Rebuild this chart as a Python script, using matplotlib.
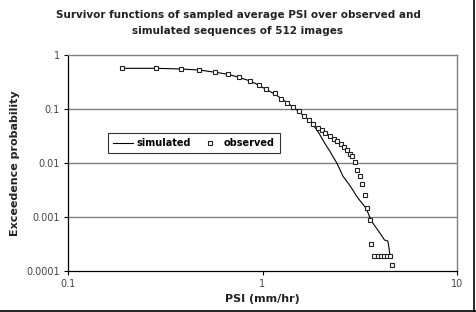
import matplotlib
matplotlib.use("Agg")
import matplotlib.pyplot as plt
from matplotlib.lines import Line2D

# Observed survivor function (PSI mm/hr, exceedence probability)
obs_x = [0.190, 0.284, 0.379, 0.474, 0.573, 0.666, 0.759, 0.865, 0.954, 1.045,
         1.153, 1.248, 1.344, 1.432, 1.537, 1.625, 1.724, 1.818, 1.924, 2.023,
         2.108, 2.211, 2.318, 2.422, 2.527, 2.624, 2.719, 2.811, 2.901, 2.982,
         3.079, 3.153, 3.248, 3.373, 3.437, 3.578, 3.634,
         3.765, 3.902, 4.044, 4.190, 4.341, 4.498, 4.622]
obs_y = [0.567, 0.567, 0.551, 0.527, 0.478, 0.445, 0.386, 0.330, 0.283, 0.232,
         0.194, 0.156, 0.131, 0.110, 0.0906, 0.0742, 0.0618, 0.0528, 0.0445, 0.040,
         0.0355, 0.0316, 0.0282, 0.0253, 0.0227, 0.0198, 0.0172, 0.0148, 0.0135, 0.01057,
         0.00741, 0.00582, 0.00417, 0.00252, 0.00149, 0.00088, 0.000316,
         0.000192, 0.000192, 0.000192, 0.000192, 0.000192, 0.000192, 0.000129]

# Simulated survivor function
sim_x = [0.190, 0.284, 0.379, 0.474, 0.573, 0.666, 0.759, 0.865, 0.954, 1.045,
         1.153, 1.248, 1.344, 1.432, 1.537, 1.644, 1.745, 1.888, 1.964, 2.042,
         2.133, 2.211, 2.291, 2.393, 2.488, 2.588, 2.704, 2.802, 2.913, 3.032,
         3.153, 3.278, 3.413, 3.549, 3.690, 3.915, 4.076, 4.240, 4.409, 4.472,
         4.498, 4.525]
sim_y = [0.567, 0.567, 0.551, 0.527, 0.478, 0.440, 0.383, 0.330, 0.278, 0.230,
         0.190, 0.157, 0.129, 0.109, 0.0898, 0.0726, 0.0612, 0.0426, 0.0344, 0.0267,
         0.0206, 0.0170, 0.0135, 0.01044, 0.00791, 0.00574, 0.00464, 0.00391, 0.00316, 0.00250,
         0.00206, 0.00174, 0.00144, 0.00102, 0.000774, 0.000574, 0.000464, 0.000375, 0.000359, 0.000267,
         0.000225, 0.000174]

x_ticks = [0.1, 1, 10]
x_tick_labels = ["0.1", "1", "10"]
y_ticks = [0.0001, 0.001, 0.01, 0.1, 1]
y_tick_labels = ["0.0001", "0.001", "0.01", "0.1", "1"]

plt.rcParams['font.family'] = ['DejaVu Sans']

fig = plt.figure(figsize=(4.76, 3.12), dpi=100)
ax = fig.add_axes([68/476, 41/312, 389/476, 216/312])

ax.set_xscale('log')
ax.set_yscale('log')
ax.set_xlim(0.1, 10)
ax.set_ylim(0.0001, 1)

for yv in y_ticks[1:-1]:
    ax.axhline(yv, color='#7f7f7f', lw=1.0, zorder=1)

ax.plot(sim_x, sim_y, color='black', lw=0.8, label='simulated', zorder=3)
ax.plot(obs_x, obs_y, ls='none', marker='s', ms=3.1, mfc='white', mec='#222222',
        mew=0.8, label='observed', zorder=4)

ax.set_xticks(x_ticks)
ax.set_xticklabels(x_tick_labels)
ax.set_yticks(y_ticks)
ax.set_yticklabels(y_tick_labels)
ax.minorticks_off()
ax.tick_params(axis='both', which='major', direction='out', length=3, width=0.8,
               labelsize=7, labelcolor='#444444', color='black', pad=3)

for s in ['top', 'right']:
    ax.spines[s].set_color('#7f7f7f')
    ax.spines[s].set_linewidth(1.0)
for s in ['left', 'bottom']:
    ax.spines[s].set_color('black')
    ax.spines[s].set_linewidth(0.9)

ax.set_xlabel('PSI (mm/hr)', fontsize=8, fontweight='bold', color='#222222', labelpad=3)
ax.set_ylabel('Exceedence probability', fontsize=8, fontweight='bold', color='#222222', labelpad=4)

leg = ax.legend(ncol=2, loc='center', bbox_to_anchor=(0.324, 0.593),
                frameon=True, fancybox=False, edgecolor='black',
                prop={'size': 7, 'weight': 'bold'}, handlelength=2.0, borderaxespad=0,
                columnspacing=0.9, handletextpad=0.45, borderpad=0.55)
leg.get_frame().set_linewidth(0.8)

fig.text(238/476, 1 - 15/312, 'Survivor functions of sampled average PSI over observed and',
         ha='center', va='center', fontsize=7.5, fontweight='bold', color='#222222')
fig.text(238/476, 1 - 31/312, 'simulated sequences of 512 images',
         ha='center', va='center', fontsize=7.5, fontweight='bold', color='#222222')

fig.add_artist(Line2D([473.5/476, 473.5/476], [0, 1], transform=fig.transFigure,
                      color='black', lw=1.2))
fig.add_artist(Line2D([0, 1], [1.5/312, 1.5/312], transform=fig.transFigure,
                      color='black', lw=1.2))

fig.savefig('out.png', dpi=100)
